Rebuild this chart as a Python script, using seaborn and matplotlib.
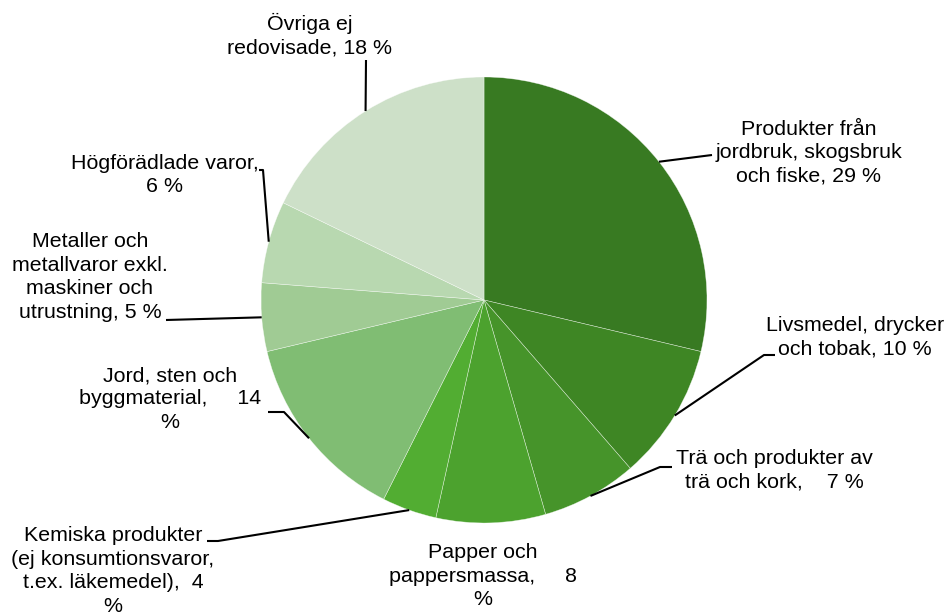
import numpy as np
import seaborn as sns
from matplotlib import pyplot as plt

sns.set_theme(style="white")
plt.rcParams['font.family'] = ['Liberation Sans', 'DejaVu Sans']

# export shares, clockwise from 12 o'clock
labels = [
    "Produkter från\njordbruk, skogsbruk\noch fiske, 29 %",
    "Livsmedel, drycker\noch tobak, 10 %",
    "Trä och produkter av\nträ och kork,    7 %",
    "Papper och\npappersmassa,     8\n%",
    "Kemiska produkter\n(ej konsumtionsvaror,\nt.ex. läkemedel),  4\n%",
    "Jord, sten och\nbyggmaterial,     14\n%",
    "Metaller och\nmetallvaror exkl.\nmaskiner och\nutrustning, 5 %",
    "Högförädlade varor,\n6 %",
    "Övriga ej\nredovisade, 18 %",
]
shares = [29, 10, 7, 8, 4, 14, 5, 6, 18]
colors = ["#387a22", "#3e8624", "#46942a", "#4ca22e", "#52ad32",
          "#80bd73", "#a0cb94", "#b8d8b0", "#cde0c8"]

# layout in pixels (y down)
center = (484, 300)
radius = 223
text_pos = [(809, 153), (855, 337), (774, 470), (483, 576), (113, 571),
            (170, 399), (90, 277), (165, 175), (310, 35)]
# leader line: elbow then tail, None = no leader
leaders = [[(712, 155)], [(764, 355), (775, 355)], [(660, 467), (672, 467)], None,
           [(218, 541), (207, 541)], [(284, 412), (268, 412)], [(166, 320)],
           [(263, 170), (259, 170)], [(366, 60)]]

fig = plt.figure(figsize=(9.53, 6.16), dpi=100)
ax = fig.add_axes([0, 0, 1, 1])

wedges, _ = ax.pie(shares, colors=colors, center=center, radius=radius,
                   startangle=-90, counterclock=True,
                   wedgeprops=dict(edgecolor=(1, 1, 1, 0.6), linewidth=0.4))
ax.set_xlim(0, 953)
ax.set_ylim(616, 0)
ax.set_aspect("equal")
ax.axis("off")

for w, lab, tp, ld in zip(wedges, labels, text_pos, leaders):
    ax.text(tp[0], tp[1], lab, ha="center", va="center", fontsize=15.4,
            color="#000000", linespacing=1.3)
    if ld is None:
        continue
    mid = np.deg2rad((w.theta1 + w.theta2) / 2)
    start = (center[0] + radius * np.cos(mid), center[1] + radius * np.sin(mid))
    pts = [start] + ld
    ax.plot([p[0] for p in pts], [p[1] for p in pts], color="black", lw=1.5,
            solid_capstyle="butt")

fig.savefig("out.png", dpi=100)
